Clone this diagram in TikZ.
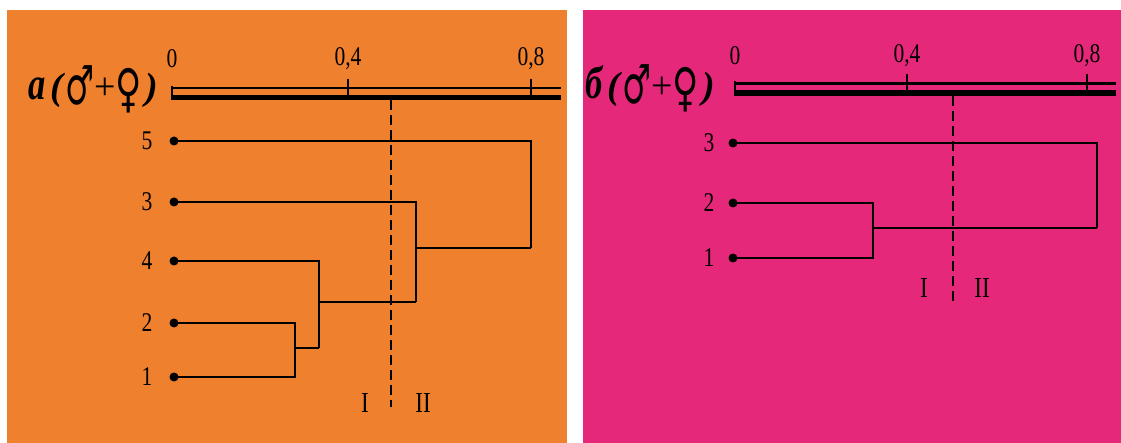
\documentclass[tikz,border=0pt]{standalone}
\usepackage{fontspec}
\setmainfont{Liberation Serif}
\newfontfamily\symf{DejaVu Sans}
\definecolor{orangebg}{RGB}{238,128,46}
\definecolor{pinkbg}{RGB}{230,40,122}
\newcommand{\sqz}[1]{\scalebox{0.8}[1]{#1}}
\newcommand{\marsg}{\raisebox{-5pt}{\scalebox{0.9}[1.5]{\fontsize{36}{38}\selectfont\symf ♂}}}
\newcommand{\venusg}{\raisebox{-7pt}{\scalebox{1.0}[1.45]{\fontsize{36}{38}\selectfont\symf ♀}}}
\newcommand{\ttlrow}[1]{{\fontsize{46}{48}\selectfont\bfseries\itshape\scalebox{0.75}[1]{#1}}\hspace{5pt}{\fontsize{38}{40}\selectfont\bfseries\itshape(}\hspace{2pt}\marsg{\fontsize{38}{40}\selectfont+}\venusg\hspace{3pt}{\fontsize{38}{40}\selectfont\bfseries\itshape)}}
\begin{document}
\begin{tikzpicture}[x=1pt,y=-1pt,
  lw/.style={line width=2.7pt},
  leafdot/.style={circle,fill=black,inner sep=0pt,minimum size=9pt},
  num/.style={font=\fontsize{27}{29}\selectfont,inner sep=0pt},
  roman/.style={font=\fontsize{29}{31}\selectfont,inner sep=0pt},
  ttl/.style={inner sep=0pt,anchor=base east},
  cut/.style={line width=2.6pt,dash pattern=on 10pt off 5pt},
  thinax/.style={line width=2.5pt},
  thickax/.style={line width=5.5pt},
  axtick/.style={line width=2.2pt}]
\fill[white] (0,0) rectangle (1121,443);
\useasboundingbox (0,0) rectangle (1121,443);
\fill[orangebg] (7,10) rectangle (567,443);
\fill[pinkbg] (583,10) rectangle (1121,443);

% ---------- panel a ----------
\coordinate (axa1) at (172,88); \coordinate (axa2) at (561,88);
\coordinate (axa3) at (172,97.5); \coordinate (axa4) at (561,97.5);
\draw[thinax] (axa1) -- (axa2);
\draw[thickax] (axa3) -- (axa4);
\coordinate (tka0t) at (172,86); \coordinate (tka0b) at (172,100);
\coordinate (tka4t) at (348,79); \coordinate (tka4b) at (348,100);
\coordinate (tka8t) at (531,79); \coordinate (tka8b) at (531,100);
\draw[axtick] (tka0t) -- (tka0b);
\draw[axtick] (tka4t) -- (tka4b);
\draw[axtick] (tka8t) -- (tka8b);
\node[num] (na0) at (172,59) {\sqz{0}};
\node[num] (na4) at (348,59) {\sqz{0,4}};
\node[num] (na8) at (531,59) {\sqz{0,8}};
\node[ttl] (tta) at (158,100) {\ttlrow{a}};

\node[leafdot] (pa5) at (174,141) {};
\node[leafdot] (pa3) at (174,202) {};
\node[leafdot] (pa4) at (174,261) {};
\node[leafdot] (pa2) at (174,323) {};
\node[leafdot] (pa1) at (174,377) {};
\node[num] (la5) at (147,141) {\sqz{5}};
\node[num] (la3) at (147,202) {\sqz{3}};
\node[num] (la4) at (147,261) {\sqz{4}};
\node[num] (la2) at (147,323) {\sqz{2}};
\node[num] (la1) at (147,377) {\sqz{1}};
\coordinate (ma12) at (295,348);
\coordinate (ma124) at (319,302);
\coordinate (ma1243) at (416,248);
\coordinate (mra) at (531,200);
\draw[lw] (pa1.center) -- (pa1.center -| ma12) -- (pa2.center -| ma12) -- (pa2.center);
\draw[lw] (ma12) -- (ma12 -| ma124);
\draw[lw] (pa4.center) -- (pa4.center -| ma124) -- (ma12 -| ma124);
\draw[lw] (ma124) -- (ma124 -| ma1243);
\draw[lw] (pa3.center) -- (pa3.center -| ma1243) -- (ma124 -| ma1243);
\draw[lw] (ma1243) -- (ma1243 -| mra);
\draw[lw] (pa5.center) -- (pa5.center -| mra) -- (ma1243 -| mra);
\coordinate (cta) at (391,100); \coordinate (cba) at (391,407);
\draw[cut] (cta) -- (cba);
\node[roman] (ia) at (365,403) {\sqz{I}};
\node[roman] (iia) at (423,403) {\sqz{II}};

% ---------- panel b ----------
\coordinate (axb1) at (735,83.5); \coordinate (axb2) at (1116,83.5);
\coordinate (axb3) at (735,93); \coordinate (axb4) at (1116,93);
\draw[thinax] (axb1) -- (axb2);
\draw[thickax] (axb3) -- (axb4);
\coordinate (tkb0t) at (735,81); \coordinate (tkb0b) at (735,96);
\coordinate (tkb4t) at (907,74); \coordinate (tkb4b) at (907,96);
\coordinate (tkb8t) at (1087,74); \coordinate (tkb8b) at (1087,96);
\draw[axtick] (tkb0t) -- (tkb0b);
\draw[axtick] (tkb4t) -- (tkb4b);
\draw[axtick] (tkb8t) -- (tkb8b);
\node[num] (nb0) at (735,56) {\sqz{0}};
\node[num] (nb4) at (907,56) {\sqz{0,4}};
\node[num] (nb8) at (1087,56) {\sqz{0,8}};
\node[ttl] (ttb) at (715,99) {\ttlrow{б}};

\node[leafdot] (pb3) at (733,143) {};
\node[leafdot] (pb2) at (733,203) {};
\node[leafdot] (pb1) at (733,258) {};
\node[num] (lb3) at (709,143) {\sqz{3}};
\node[num] (lb2) at (709,203) {\sqz{2}};
\node[num] (lb1) at (709,258) {\sqz{1}};
\coordinate (mb12) at (873,228);
\coordinate (mrb) at (1097,190);
\draw[lw] (pb1.center) -- (pb1.center -| mb12) -- (pb2.center -| mb12) -- (pb2.center);
\draw[lw] (mb12) -- (mb12 -| mrb);
\draw[lw] (pb3.center) -- (pb3.center -| mrb) -- (mb12 -| mrb);
\coordinate (ctb) at (953,96); \coordinate (cbb) at (953,305);
\draw[cut] (ctb) -- (cbb);
\node[roman] (ib) at (924,288) {\sqz{I}};
\node[roman] (iib) at (982,288) {\sqz{II}};
\end{tikzpicture}
\end{document}
